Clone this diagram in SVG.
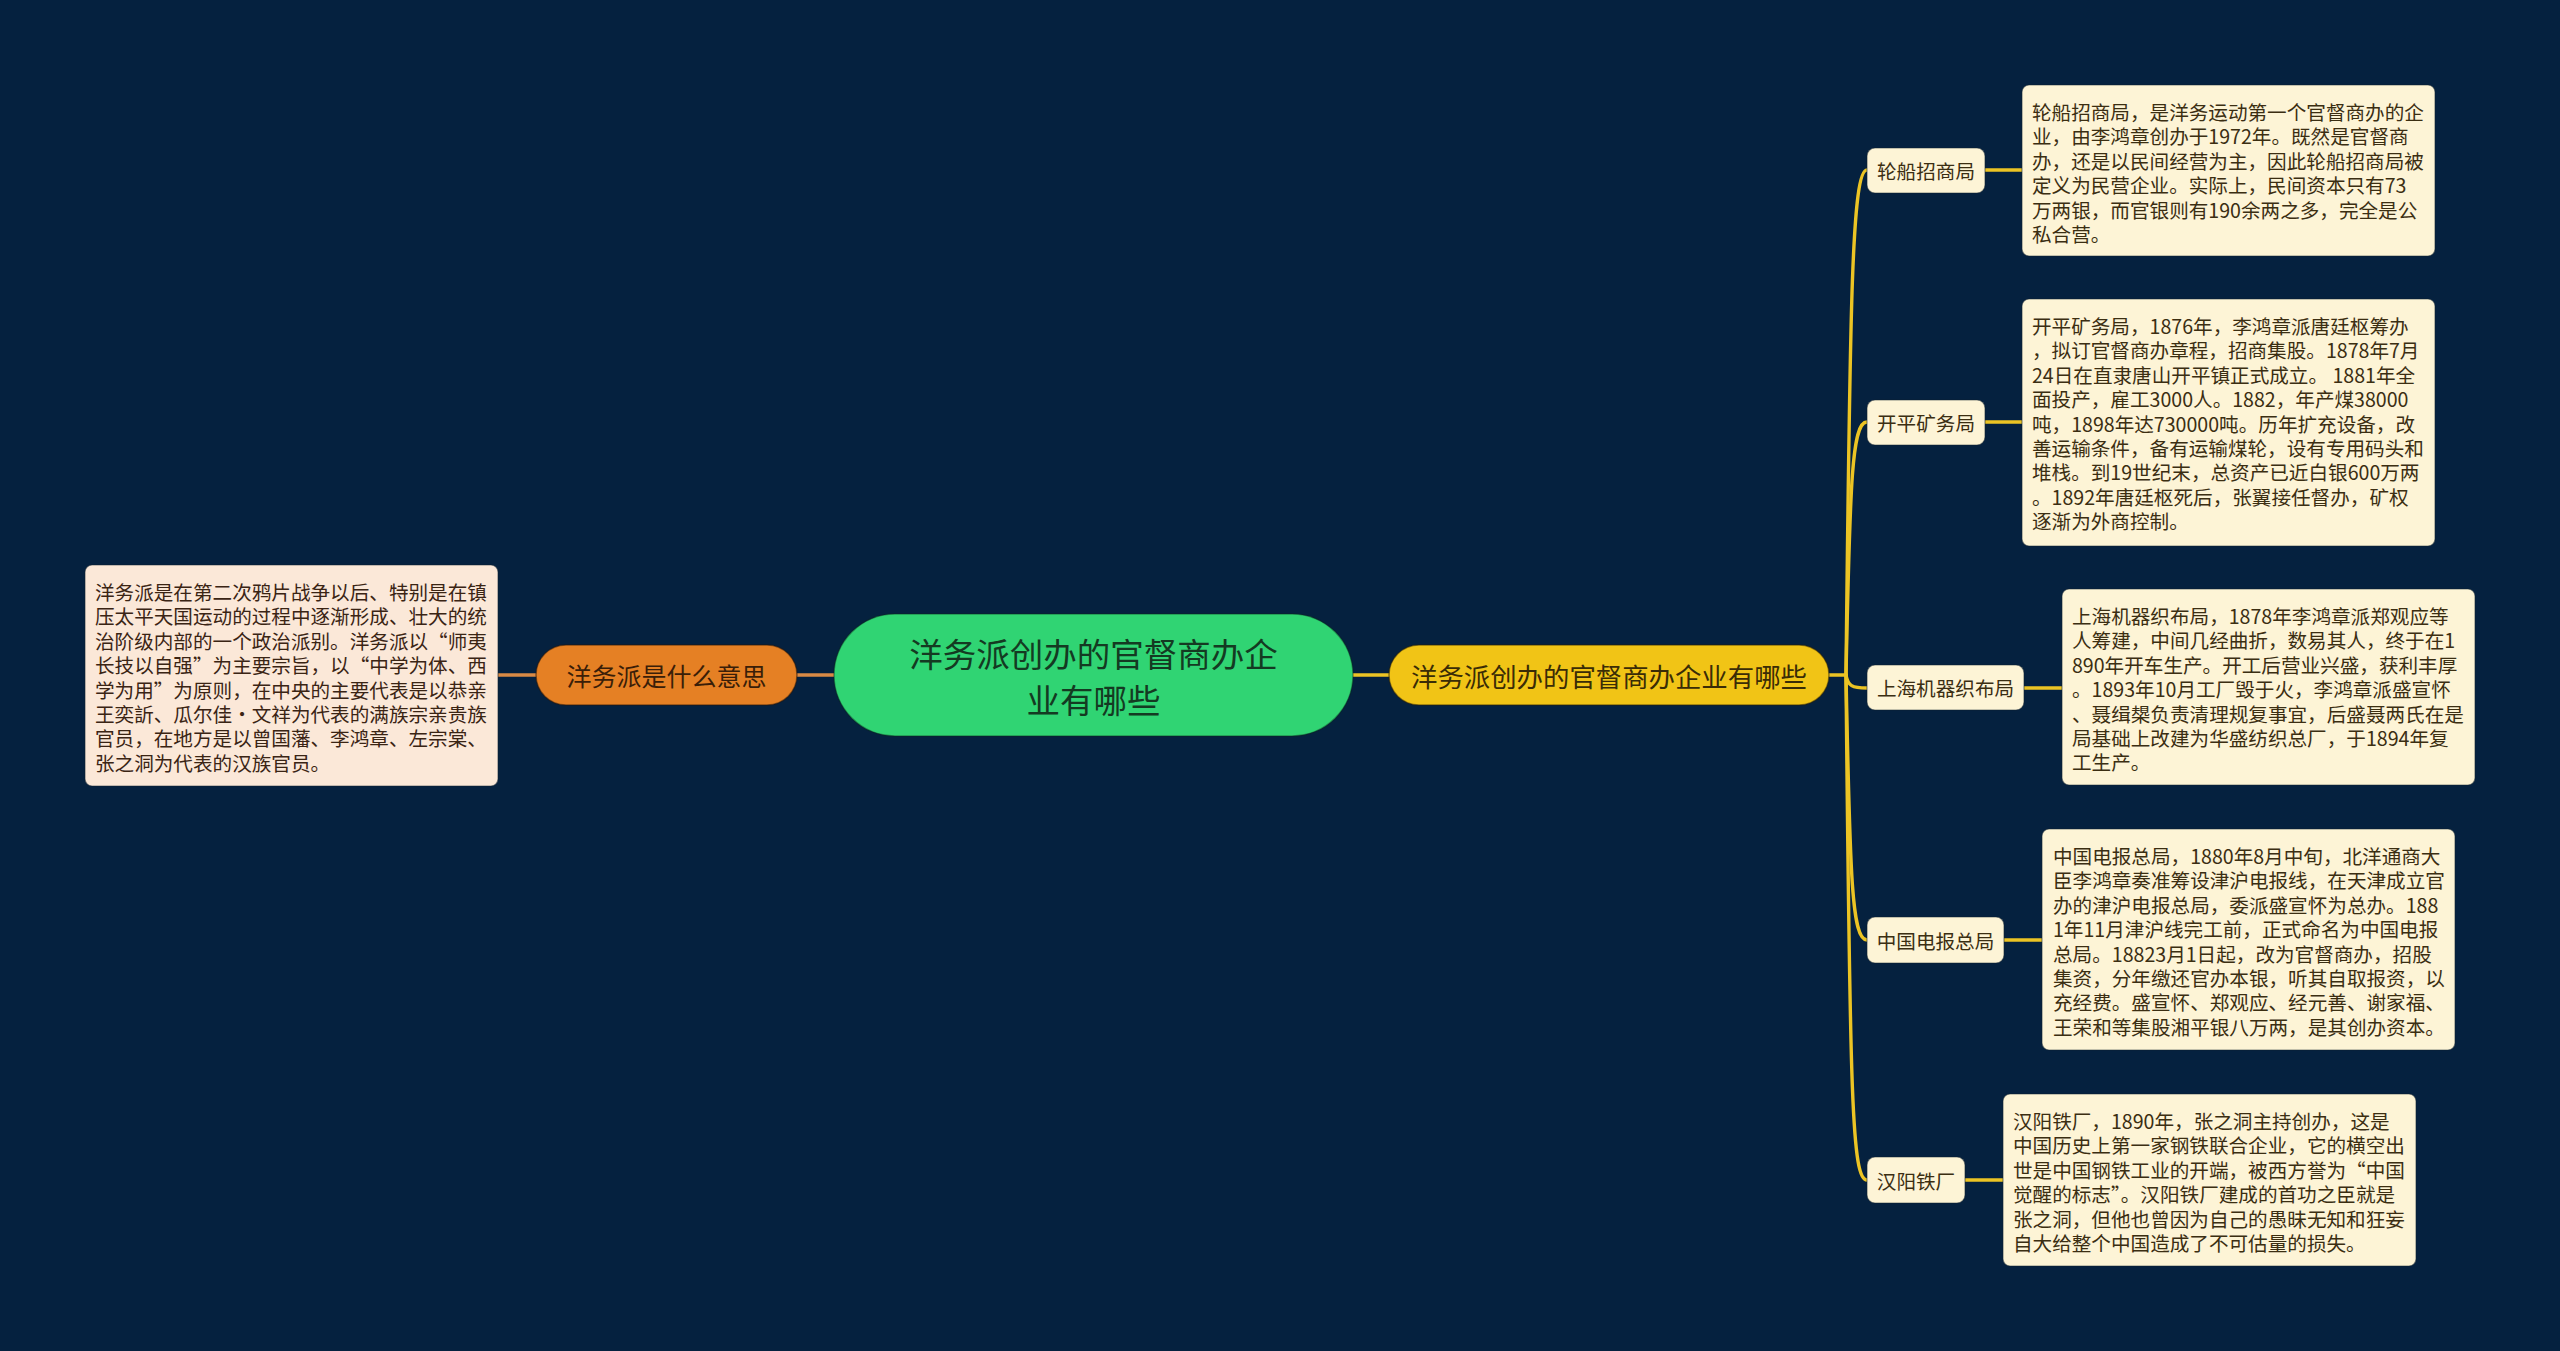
<svg xmlns="http://www.w3.org/2000/svg" width="2560" height="1351" viewBox="0 0 2560 1351">
<style>
.t{font-family:"Noto Sans CJK SC","Noto Sans",sans-serif;dominant-baseline:central}
.d{font-size:19.6px;fill:#3b2e12}
.dl{font-size:19.6px;fill:#3a2414}
.lb{font-size:19.6px;fill:#3b2e12;text-anchor:middle}
.box{fill:#fdf4d6;stroke:#10202e;stroke-opacity:.5;stroke-width:1.2}
.boxl{fill:#fbe8d8;stroke:#10202e;stroke-opacity:.5;stroke-width:1.2}
.cy{fill:none;stroke:#ecc424;stroke-width:3.4;stroke-linecap:round}
.co{fill:none;stroke:#d98a45;stroke-width:3.4}
</style>
<rect x="0" y="0" width="2560" height="1351" fill="#05213f"/>
<g id="connectors">
<path class="co" d="M498,675 L536,675"/>
<path class="co" d="M797,675 L834,675"/>
<path class="cy" d="M1353,675 L1389,675"/>
<path class="cy" d="M1829,675 L1846,675"/>
<path class="cy" d="M1846,675 C1850,300 1852,170 1867,170"/>
<path class="cy" d="M1846,675 C1850,480 1852,422 1867,422"/>
<path class="cy" d="M1846,675 C1848,686 1852,688 1867,688"/>
<path class="cy" d="M1846,675 C1850,880 1852,940 1867,940"/>
<path class="cy" d="M1846,675 C1850,1100 1852,1180 1867,1180"/>
<path class="cy" d="M1985,170 L2022,170"/>
<path class="cy" d="M1985,422 L2022,422"/>
<path class="cy" d="M2024,688 L2062,688"/>
<path class="cy" d="M2004,940 L2042,940"/>
<path class="cy" d="M1965,1180 L2003,1180"/>
</g>
<g id="center">
<rect x="834" y="614" width="519" height="122" rx="61" fill="#30d473" stroke="#0d2a1a" stroke-opacity=".4" stroke-width="1.5"/>
<text class="t" x="1093.5" y="652" font-size="33.5" fill="#143a22" text-anchor="middle">洋务派创办的官督商办企</text>
<text class="t" x="1093.5" y="698" font-size="33.5" fill="#143a22" text-anchor="middle">业有哪些</text>
</g>
<g id="left-topic">
<rect x="536" y="645" width="261" height="60" rx="30" fill="#e58024" stroke="#2a1608" stroke-opacity=".5" stroke-width="1.5"/>
<text class="t" x="666.5" y="675" font-size="25" fill="#3a1e08" text-anchor="middle">洋务派是什么意思</text>
</g>
<g id="left-desc">
<rect class="boxl" x="85" y="565" width="413" height="221" rx="7"/>
<text class="t dl" x="95" y="591">
<tspan x="95" dy="0">洋务派是在第二次鸦片战争以后、特别是在镇</tspan>
<tspan x="95" dy="24.4">压太平天国运动的过程中逐渐形成、壮大的统</tspan>
<tspan x="95" dy="24.4">治阶级内部的一个政治派别。洋务派以“师夷</tspan>
<tspan x="95" dy="24.4">长技以自强”为主要宗旨，以“中学为体、西</tspan>
<tspan x="95" dy="24.4">学为用”为原则，在中央的主要代表是以恭亲</tspan>
<tspan x="95" dy="24.4">王奕訢、瓜尔佳·文祥为代表的满族宗亲贵族</tspan>
<tspan x="95" dy="24.4">官员，在地方是以曾国藩、李鸿章、左宗棠、</tspan>
<tspan x="95" dy="24.4">张之洞为代表的汉族官员。</tspan>
</text>
</g>
<g id="right-topic">
<rect x="1389" y="645" width="440" height="60" rx="30" fill="#f1c416" stroke="#2a2006" stroke-opacity=".5" stroke-width="1.5"/>
<text class="t" x="1609" y="675" font-size="26.4" fill="#3a2c06" text-anchor="middle">洋务派创办的官督商办企业有哪些</text>
</g>
<g id="label-1">
<rect class="box" x="1867" y="148" width="118" height="45" rx="8"/>
<text class="t lb" x="1926" y="170.5">轮船招商局</text>
</g>
<g id="label-2">
<rect class="box" x="1867" y="400" width="118" height="45" rx="8"/>
<text class="t lb" x="1926" y="422.5">开平矿务局</text>
</g>
<g id="label-3">
<rect class="box" x="1867" y="665" width="157" height="45" rx="8"/>
<text class="t lb" x="1945.5" y="687.5">上海机器织布局</text>
</g>
<g id="label-4">
<rect class="box" x="1867" y="917" width="137" height="46" rx="8"/>
<text class="t lb" x="1935.5" y="940">中国电报总局</text>
</g>
<g id="label-5">
<rect class="box" x="1867" y="1157" width="98" height="46" rx="8"/>
<text class="t lb" x="1916" y="1180">汉阳铁厂</text>
</g>
<g id="desc-1">
<rect class="box" x="2022" y="85" width="413" height="171" rx="7"/>
<text class="t d" x="2032" y="111">
<tspan x="2032" dy="0">轮船招商局，是洋务运动第一个官督商办的企</tspan>
<tspan x="2032" dy="24.4">业，由李鸿章创办于1972年。既然是官督商</tspan>
<tspan x="2032" dy="24.4">办，还是以民间经营为主，因此轮船招商局被</tspan>
<tspan x="2032" dy="24.4">定义为民营企业。实际上，民间资本只有73</tspan>
<tspan x="2032" dy="24.4">万两银，而官银则有190余两之多，完全是公</tspan>
<tspan x="2032" dy="24.4">私合营。</tspan>
</text>
</g>
<g id="desc-2">
<rect class="box" x="2022" y="299" width="413" height="247" rx="7"/>
<text class="t d" x="2032" y="325">
<tspan x="2032" dy="0">开平矿务局，1876年，李鸿章派唐廷枢筹办</tspan>
<tspan x="2032" dy="24.4">，拟订官督商办章程，招商集股。1878年7月</tspan>
<tspan x="2032" dy="24.4">24日在直隶唐山开平镇正式成立。 1881年全</tspan>
<tspan x="2032" dy="24.4">面投产，雇工3000人。1882，年产煤38000</tspan>
<tspan x="2032" dy="24.4">吨，1898年达730000吨。历年扩充设备，改</tspan>
<tspan x="2032" dy="24.4">善运输条件，备有运输煤轮，设有专用码头和</tspan>
<tspan x="2032" dy="24.4">堆栈。到19世纪末，总资产已近白银600万两</tspan>
<tspan x="2032" dy="24.4">。1892年唐廷枢死后，张翼接任督办，矿权</tspan>
<tspan x="2032" dy="24.4">逐渐为外商控制。</tspan>
</text>
</g>
<g id="desc-3">
<rect class="box" x="2062" y="589" width="413" height="196" rx="7"/>
<text class="t d" x="2072" y="615">
<tspan x="2072" dy="0">上海机器织布局，1878年李鸿章派郑观应等</tspan>
<tspan x="2072" dy="24.4">人筹建，中间几经曲折，数易其人，终于在1</tspan>
<tspan x="2072" dy="24.4">890年开车生产。开工后营业兴盛，获利丰厚</tspan>
<tspan x="2072" dy="24.4">。1893年10月工厂毁于火，李鸿章派盛宣怀</tspan>
<tspan x="2072" dy="24.4">、聂缉槼负责清理规复事宜，后盛聂两氏在是</tspan>
<tspan x="2072" dy="24.4">局基础上改建为华盛纺织总厂，于1894年复</tspan>
<tspan x="2072" dy="24.4">工生产。</tspan>
</text>
</g>
<g id="desc-4">
<rect class="box" x="2042" y="829" width="413" height="221" rx="7"/>
<text class="t d" x="2053" y="855">
<tspan x="2053" dy="0">中国电报总局，1880年8月中旬，北洋通商大</tspan>
<tspan x="2053" dy="24.4">臣李鸿章奏准筹设津沪电报线，在天津成立官</tspan>
<tspan x="2053" dy="24.4">办的津沪电报总局，委派盛宣怀为总办。188</tspan>
<tspan x="2053" dy="24.4">1年11月津沪线完工前，正式命名为中国电报</tspan>
<tspan x="2053" dy="24.4">总局。18823月1日起，改为官督商办，招股</tspan>
<tspan x="2053" dy="24.4">集资，分年缴还官办本银，听其自取报资，以</tspan>
<tspan x="2053" dy="24.4">充经费。盛宣怀、郑观应、经元善、谢家福、</tspan>
<tspan x="2053" dy="24.4">王荣和等集股湘平银八万两，是其创办资本。</tspan>
</text>
</g>
<g id="desc-5">
<rect class="box" x="2003" y="1094" width="413" height="172" rx="7"/>
<text class="t d" x="2013" y="1120">
<tspan x="2013" dy="0">汉阳铁厂，1890年，张之洞主持创办，这是</tspan>
<tspan x="2013" dy="24.4">中国历史上第一家钢铁联合企业，它的横空出</tspan>
<tspan x="2013" dy="24.4">世是中国钢铁工业的开端，被西方誉为“中国</tspan>
<tspan x="2013" dy="24.4">觉醒的标志”。汉阳铁厂建成的首功之臣就是</tspan>
<tspan x="2013" dy="24.4">张之洞，但他也曾因为自己的愚昧无知和狂妄</tspan>
<tspan x="2013" dy="24.4">自大给整个中国造成了不可估量的损失。</tspan>
</text>
</g>
</svg>
